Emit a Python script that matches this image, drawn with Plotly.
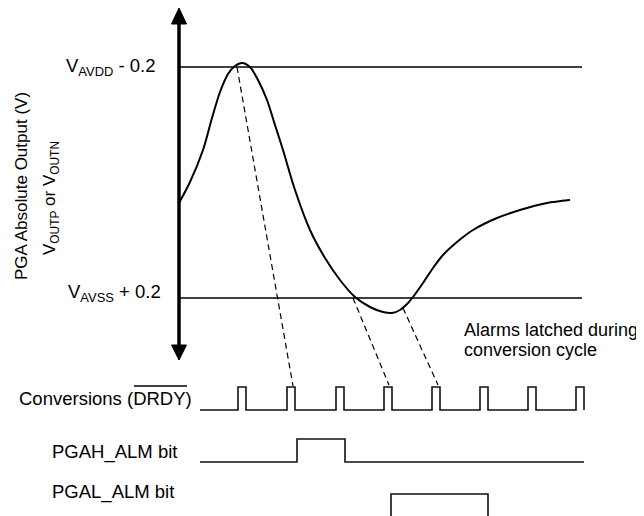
import plotly.graph_objects as go

# analog output waveform (page-pixel coordinates, y grows downward)
curve_x = [179, 190, 203, 212, 220, 228, 235, 242, 250, 258, 267, 275, 283, 295, 310, 325,
           340, 355, 370, 383, 392, 400, 408, 413, 423, 433, 443, 457, 473, 497, 520, 547, 570]
curve_y = [203, 182, 150, 118, 92, 74, 66, 63, 67, 80, 100, 125, 150, 190, 230, 258,
           280, 297, 307, 312, 313, 310, 303, 297, 283, 268, 255, 242, 230, 218, 210, 203, 200]

level_names = ["V<sub>AVDD</sub> - 0.2", "V<sub>AVSS</sub> + 0.2"]
level_y = [67, 298]
level_x = [179, 582]

# DRDY pulse train
drdy_rise = [238, 287, 336, 384, 432, 480, 528, 576]
drdy_width = 8
drdy_span = [200, 584]
drdy_lo, drdy_hi = 410, 387

# alarm bits: (start, rise, fall, end)
pgah_edges = [200, 297, 345, 584]
pgah_lo, pgah_hi = 462, 439
pgal_edges = [391, 488]
pgal_lo, pgal_hi = 530, 494

# latch markers (curve point -> DRDY edge)
latch_from = [(237, 67), (353, 298), (403, 308)]
latch_to = [(293, 386), (389, 385), (438, 385)]

FONT = "Liberation Sans, Arial, sans-serif"
FS = 18.5
FS_ROT = 17
FS_NOTE = 18
BLACK = "#000000"
PAGE_MARGIN = 8  # default body margin of the html page

fig = go.Figure()

for y in level_y:
    fig.add_trace(go.Scatter(x=level_x, y=[y, y], mode="lines",
                             line=dict(color=BLACK, width=1.3), hoverinfo="skip"))

fig.add_trace(go.Scatter(x=curve_x, y=curve_y, mode="lines",
                         line=dict(color=BLACK, width=2, shape="spline", smoothing=0.8),
                         hoverinfo="skip"))

for (x0, y0), (x1, y1) in zip(latch_from, latch_to):
    fig.add_trace(go.Scatter(x=[x0, x1], y=[y0, y1], mode="lines",
                             line=dict(color=BLACK, width=1.2, dash="6px,4px"), hoverinfo="skip"))

# vertical axis with arrow heads
fig.add_trace(go.Scatter(x=[179, 179], y=[22, 347], mode="lines",
                         line=dict(color=BLACK, width=3.5), hoverinfo="skip"))
fig.add_trace(go.Scatter(x=[179, 171.5, 186.5, 179], y=[8, 24, 24, 8], mode="lines",
                         fill="toself", fillcolor=BLACK, line=dict(color=BLACK, width=1),
                         hoverinfo="skip"))
fig.add_trace(go.Scatter(x=[179, 171.5, 186.5, 179], y=[360, 345, 345, 360], mode="lines",
                         fill="toself", fillcolor=BLACK, line=dict(color=BLACK, width=1),
                         hoverinfo="skip"))

# DRDY
dx, dy = [drdy_span[0]], [drdy_lo]
for r in drdy_rise:
    f = r + drdy_width
    dx += [r, r, f, f]
    dy += [drdy_lo, drdy_hi, drdy_hi, drdy_lo]
if dx[-1] < drdy_span[1]:
    dx.append(drdy_span[1])
    dy.append(drdy_lo)
fig.add_trace(go.Scatter(x=dx, y=dy, mode="lines", line=dict(color="#111111", width=1.6),
                         hoverinfo="skip"))

s, r, f, e = pgah_edges
fig.add_trace(go.Scatter(x=[s, r, r, f, f, e], y=[pgah_lo, pgah_lo, pgah_hi, pgah_hi, pgah_lo, pgah_lo],
                         mode="lines", line=dict(color="#111111", width=1.6), hoverinfo="skip"))
r, f = pgal_edges
fig.add_trace(go.Scatter(x=[r, r, f, f], y=[pgal_lo, pgal_hi, pgal_hi, pgal_lo],
                         mode="lines", line=dict(color="#111111", width=1.6), hoverinfo="skip"))

ann = [
    dict(x=158, y=level_y[0], text=level_names[0], xanchor="right", yanchor="middle"),
    dict(x=163, y=level_y[1] - 5, text=level_names[1], xanchor="right", yanchor="middle"),
    dict(x=21, y=186, text="PGA Absolute Output (V)", textangle=-90, xanchor="center",
         yanchor="middle", size=FS_ROT),
    dict(x=51, y=198, text="V<sub>OUTP</sub> or V<sub>OUTN</sub>", textangle=-90,
         xanchor="center", yanchor="middle", size=FS_ROT),
    dict(x=462, y=330, text="Alarms latched during", xanchor="left", yanchor="middle",
         size=FS_NOTE),
    dict(x=462, y=350, text="conversion cycle", xanchor="left", yanchor="middle",
         size=FS_NOTE),
    dict(x=194, y=398, text="Conversions (DRDY)", xanchor="right", yanchor="middle"),
    dict(x=50, y=452, text="PGAH_ALM bit", xanchor="left", yanchor="middle"),
    dict(x=50, y=492, text="PGAL_ALM bit", xanchor="left", yanchor="middle"),
]
for a in ann:
    size = a.pop("size", FS)
    a.update(showarrow=False, xref="x", yref="y", font=dict(family=FONT, size=size, color=BLACK))
fig.update_layout(annotations=ann)

# overline on DRDY
fig.add_shape(type="line", x0=134, x1=187, y0=386, y1=386, xref="x", yref="y",
              line=dict(color=BLACK, width=1.3))

W, H = 644, 516
fig.update_layout(
    width=W - PAGE_MARGIN, height=H - PAGE_MARGIN,
    margin=dict(l=0, r=0, t=0, b=0),
    paper_bgcolor="white", plot_bgcolor="white",
    showlegend=False,
    xaxis=dict(range=[PAGE_MARGIN, W], visible=False, fixedrange=True),
    yaxis=dict(range=[H, PAGE_MARGIN], visible=False, fixedrange=True),
)

fig.write_html("out.html")
